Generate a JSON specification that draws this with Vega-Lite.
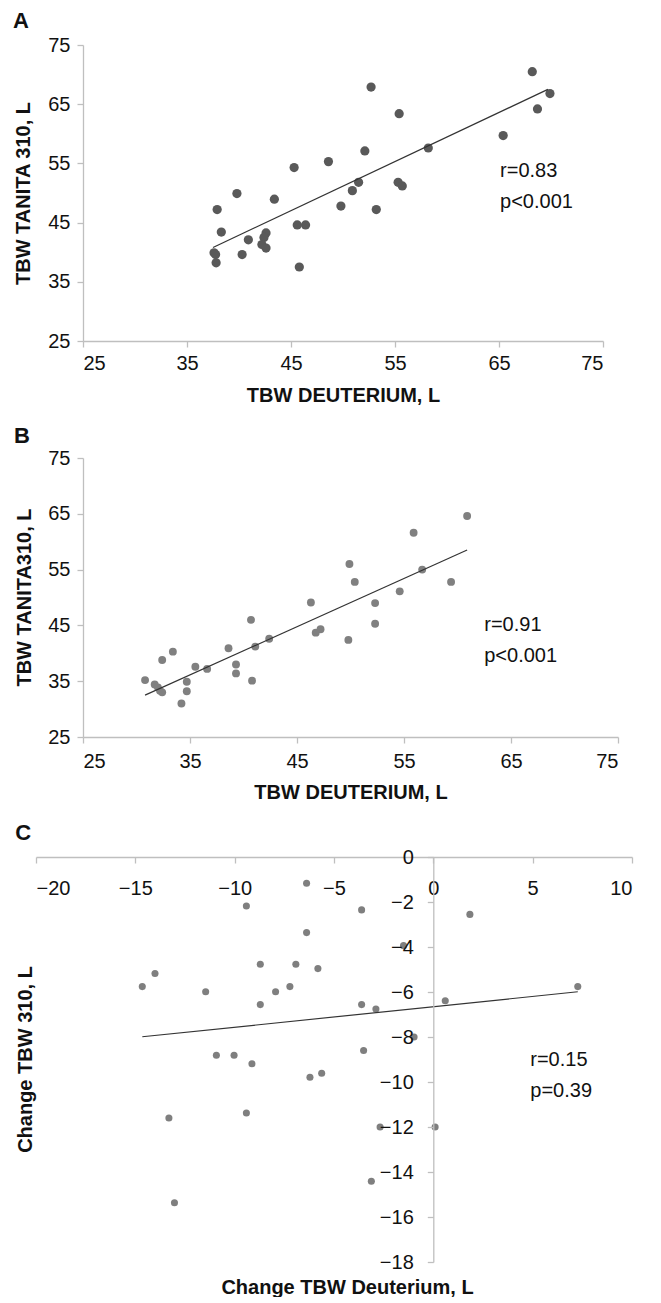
{
  "$schema": "https://vega.github.io/schema/vega-lite/v6.json",
  "background": "white",
  "padding": {"left": 13, "top": 10, "right": 0, "bottom": 0},
  "autosize": {"type": "pad"},
  "config": {
    "view": {"stroke": null},
    "font": "Liberation Sans",
    "axis": {
      "domainColor": "#bfbfbf", "tickColor": "#bfbfbf", "domainWidth": 1.3, "tickWidth": 1.3,
      "grid": false, "tickSize": 6,
      "labelFont": "Liberation Sans", "labelFontSize": 20, "labelColor": "#111111",
      "titleFont": "Liberation Sans", "titleFontWeight": "bold", "titleFontSize": 20, "titleColor": "#111111"
    },
    "title": {"anchor": "start", "frame": "bounds", "fontSize": 22, "fontWeight": "bold", "font": "Liberation Sans", "color": "#111111", "offset": 2}
  },
  "datasets": {
    "a": [
      {"x": 68.2, "y": 70.5}, {"x": 69.9, "y": 66.8}, {"x": 68.7, "y": 64.2}, {"x": 65.4, "y": 59.7},
      {"x": 58.2, "y": 57.6}, {"x": 52.7, "y": 67.9}, {"x": 55.4, "y": 63.4}, {"x": 52.1, "y": 57.1},
      {"x": 48.6, "y": 55.3}, {"x": 45.3, "y": 54.3}, {"x": 51.5, "y": 51.8}, {"x": 55.3, "y": 51.8},
      {"x": 55.7, "y": 51.2}, {"x": 50.9, "y": 50.4}, {"x": 39.8, "y": 49.9}, {"x": 43.4, "y": 48.95},
      {"x": 49.8, "y": 47.8}, {"x": 53.2, "y": 47.2}, {"x": 37.9, "y": 47.2}, {"x": 45.6, "y": 44.6},
      {"x": 46.4, "y": 44.6}, {"x": 38.3, "y": 43.4}, {"x": 42.6, "y": 43.25}, {"x": 40.9, "y": 42.1},
      {"x": 42.4, "y": 42.5}, {"x": 42.2, "y": 41.3}, {"x": 42.6, "y": 40.7}, {"x": 37.6, "y": 39.9},
      {"x": 37.75, "y": 39.6}, {"x": 40.3, "y": 39.6}, {"x": 37.8, "y": 38.2}, {"x": 45.8, "y": 37.5}
    ],
    "aLine": [{"x": 37.5, "y": 40.8}, {"x": 69.7, "y": 67.5}],
    "aText": [{"x": 65.1, "y": 53.7, "t": "r=0.83"}, {"x": 65.1, "y": 48.4, "t": "p<0.001"}],
    "b": [
      {"x": 60.9, "y": 64.6}, {"x": 55.9, "y": 61.6}, {"x": 49.9, "y": 56.0}, {"x": 56.7, "y": 55.0},
      {"x": 50.4, "y": 52.8}, {"x": 59.4, "y": 52.8}, {"x": 54.6, "y": 51.1}, {"x": 46.3, "y": 49.1},
      {"x": 52.3, "y": 49.0}, {"x": 40.7, "y": 46.0}, {"x": 52.3, "y": 45.3}, {"x": 47.2, "y": 44.3},
      {"x": 46.75, "y": 43.7}, {"x": 42.4, "y": 42.6}, {"x": 49.8, "y": 42.4}, {"x": 41.1, "y": 41.2},
      {"x": 38.6, "y": 40.9}, {"x": 33.4, "y": 40.3}, {"x": 32.4, "y": 38.8}, {"x": 39.3, "y": 38.0},
      {"x": 35.5, "y": 37.6}, {"x": 36.6, "y": 37.2}, {"x": 39.3, "y": 36.4}, {"x": 30.8, "y": 35.2},
      {"x": 40.8, "y": 35.1}, {"x": 34.7, "y": 34.9}, {"x": 31.7, "y": 34.4}, {"x": 32.0, "y": 33.9},
      {"x": 32.2, "y": 33.3}, {"x": 32.4, "y": 33.0}, {"x": 34.7, "y": 33.2}, {"x": 34.2, "y": 31.0}
    ],
    "bLine": [{"x": 30.8, "y": 32.5}, {"x": 60.9, "y": 58.5}],
    "bText": [{"x": 62.5, "y": 45.0, "t": "r=0.91"}, {"x": 62.5, "y": 39.6, "t": "p<0.001"}],
    "c": [
      {"x": -6.38, "y": -1.17}, {"x": -9.41, "y": -2.18}, {"x": -3.61, "y": -2.35}, {"x": 1.84, "y": -2.55},
      {"x": -6.38, "y": -3.36}, {"x": -1.5, "y": -3.94}, {"x": -8.71, "y": -4.77}, {"x": -6.92, "y": -4.77},
      {"x": -5.81, "y": -4.96}, {"x": -14.01, "y": -5.18}, {"x": -14.65, "y": -5.76}, {"x": -7.22, "y": -5.76},
      {"x": -11.46, "y": -5.99}, {"x": -7.94, "y": -5.99}, {"x": 7.27, "y": -5.76}, {"x": 0.6, "y": -6.39},
      {"x": -8.71, "y": -6.56}, {"x": -3.61, "y": -6.56}, {"x": -2.89, "y": -6.76}, {"x": -0.97, "y": -8.0},
      {"x": -3.51, "y": -8.6}, {"x": -10.92, "y": -8.81}, {"x": -10.03, "y": -8.81}, {"x": -9.13, "y": -9.19},
      {"x": -5.62, "y": -9.61}, {"x": -6.21, "y": -9.79}, {"x": -9.41, "y": -11.38}, {"x": -13.31, "y": -11.6},
      {"x": -2.68, "y": -12.0}, {"x": 0.09, "y": -12.0}, {"x": -3.12, "y": -14.41}, {"x": -13.03, "y": -15.37}
    ],
    "cLine": [{"x": -14.65, "y": -7.99}, {"x": 7.27, "y": -5.99}],
    "cText": [{"x": 4.88, "y": -9.04, "t": "r=0.15"}, {"x": 4.88, "y": -10.4, "t": "p=0.39"}]
  },
  "concat": [
    {
      "title": "A",
      "width": 520, "height": 296,
      "encoding": {
        "x": {"field": "x", "type": "quantitative", "scale": {"domain": [25, 75], "nice": false, "zero": false},
              "axis": {"values": [25, 35, 45, 55, 65, 75], "title": "TBW DEUTERIUM, L", "labelPadding": 6, "titleY": 60, "titleBaseline": "alphabetic"}},
        "y": {"field": "y", "type": "quantitative", "scale": {"domain": [25, 75], "nice": false, "zero": false},
              "axis": {"values": [25, 35, 45, 55, 65, 75], "title": "TBW TANITA 310, L", "labelPadding": 7, "titleX": -54, "titleY": 148, "titleBaseline": "alphabetic"}}
      },
      "layer": [
        {"data": {"name": "a"}, "mark": {"type": "circle", "size": 85, "opacity": 1, "color": "#595959"}},
        {"data": {"name": "aLine"}, "mark": {"type": "line", "color": "#333333", "strokeWidth": 1.2}},
        {"data": {"name": "aText"}, "mark": {"type": "text", "align": "left", "baseline": "middle", "fontSize": 20, "color": "#111111"}, "encoding": {"text": {"field": "t"}}}
      ]
    },
    {
      "title": {"text": "B", "offset": 0},
      "width": 535, "height": 279,
      "encoding": {
        "x": {"field": "x", "type": "quantitative", "scale": {"domain": [25, 75], "nice": false, "zero": false},
              "axis": {"values": [25, 35, 45, 55, 65, 75], "title": "TBW DEUTERIUM, L", "labelPadding": 8, "titleY": 61, "titleBaseline": "alphabetic"}},
        "y": {"field": "y", "type": "quantitative", "scale": {"domain": [25, 75], "nice": false, "zero": false},
              "axis": {"values": [25, 35, 45, 55, 65, 75], "title": "TBW TANITA310, L", "labelPadding": 7, "titleX": -53, "titleY": 139, "titleBaseline": "alphabetic"}}
      },
      "layer": [
        {"data": {"name": "b"}, "mark": {"type": "circle", "size": 62, "opacity": 1, "color": "#808080"}},
        {"data": {"name": "bLine"}, "mark": {"type": "line", "color": "#333333", "strokeWidth": 1.2}},
        {"data": {"name": "bText"}, "mark": {"type": "text", "align": "left", "baseline": "middle", "fontSize": 20, "color": "#111111"}, "encoding": {"text": {"field": "t"}}}
      ]
    },
    {
      "title": "C",
      "width": 549, "height": 405,
      "encoding": {
        "x": {"field": "x", "type": "quantitative", "scale": {"domain": [-20, 10], "range": [-47, 549], "nice": false, "zero": false},
              "axis": {"orient": "bottom", "offset": -405, "values": [-20, -15, -10, -5, 0, 5, 10], "title": "Change TBW Deuterium, L", "labelPadding": 15, "titleX": 264, "titleY": 436, "titleBaseline": "alphabetic", "zindex": 1}},
        "y": {"field": "y", "type": "quantitative", "scale": {"domain": [-18, 0], "nice": false, "zero": false},
              "axis": {"orient": "left", "offset": -350.3, "values": [0, -2, -4, -6, -8, -10, -12, -14, -16, -18], "title": "Change TBW 310, L", "labelPadding": 14, "titleX": -402, "titleY": 202, "titleBaseline": "alphabetic", "zindex": 1}}
      },
      "layer": [
        {"data": {"name": "c"}, "mark": {"type": "circle", "size": 50, "opacity": 1, "color": "#7f7f7f"}},
        {"data": {"name": "cLine"}, "mark": {"type": "line", "color": "#333333", "strokeWidth": 1.2}},
        {"data": {"name": "cText"}, "mark": {"type": "text", "align": "left", "baseline": "middle", "fontSize": 20, "color": "#111111"}, "encoding": {"text": {"field": "t"}}}
      ]
    }
  ],
  "columns": 1,
  "align": "none",
  "spacing": 20
}
